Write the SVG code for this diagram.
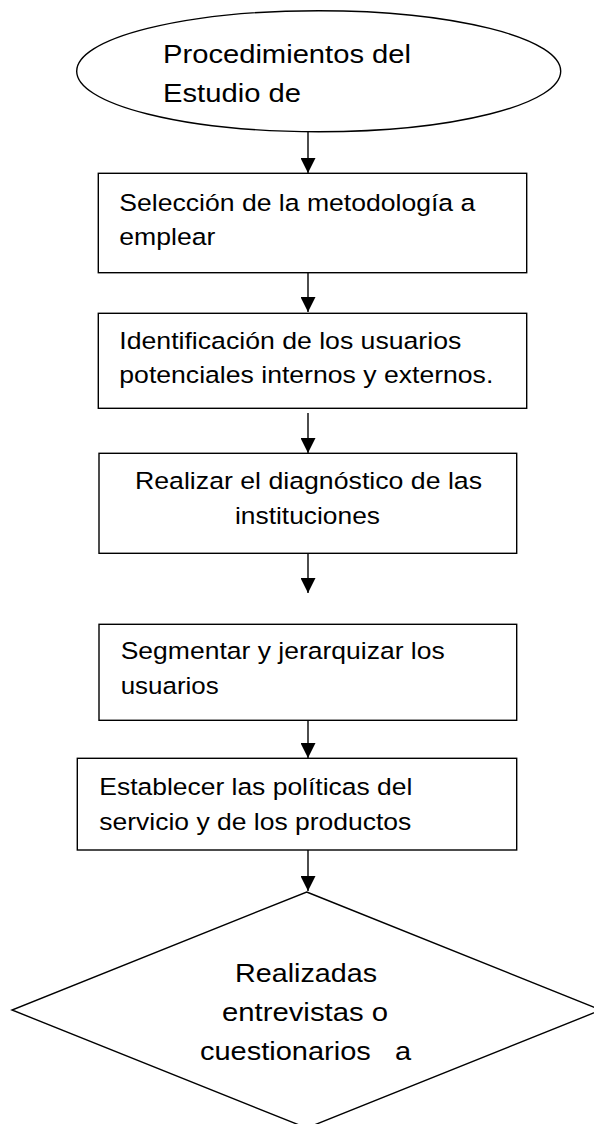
<svg xmlns="http://www.w3.org/2000/svg" width="594" height="1124" viewBox="0 0 594 1124">
<defs>
<style>
.s{fill:#fff;stroke:#000;stroke-width:1.4}
.t{font-family:"Liberation Sans",Arial,sans-serif;fill:#000}
.b{font-size:24.5px}
.e{font-size:26.5px}
.c{text-anchor:middle}
.ln{stroke:#000;stroke-width:1.4;fill:none}
</style>
<marker id="ah" markerWidth="15" markerHeight="15" viewBox="0 0 15 15" refX="15" refY="7.5" orient="auto" markerUnits="userSpaceOnUse">
<path d="M0,0 L15,7.5 L0,15 Z" fill="#000"/>
</marker>
</defs>
<rect width="594" height="1124" fill="#fff"/>
<g id="connectors">
<line class="ln" x1="308" y1="132" x2="308" y2="173" marker-end="url(#ah)"/>
<line class="ln" x1="308" y1="273" x2="308" y2="312" marker-end="url(#ah)"/>
<line class="ln" x1="308" y1="413" x2="308" y2="453" marker-end="url(#ah)"/>
<line class="ln" x1="308" y1="553" x2="308" y2="593" marker-end="url(#ah)"/>
<line class="ln" x1="308" y1="720" x2="308" y2="758" marker-end="url(#ah)"/>
<line class="ln" x1="308" y1="850" x2="308" y2="891" marker-end="url(#ah)"/>
</g>
<g id="start">
<ellipse class="s" cx="318.7" cy="71.2" rx="242" ry="60.5"/>
<text class="t e" x="163" y="63.3" textLength="248" lengthAdjust="spacingAndGlyphs">Procedimientos del</text>
<text class="t e" x="163" y="101.7" textLength="138" lengthAdjust="spacingAndGlyphs">Estudio de</text>
</g>
<g id="n1">
<rect class="s" x="98.3" y="173.3" width="428.4" height="99.4"/>
<text class="t b" x="119.3" y="210.5" textLength="356" lengthAdjust="spacingAndGlyphs">Selección de la metodología a</text>
<text class="t b" x="119.3" y="244.5" textLength="96" lengthAdjust="spacingAndGlyphs">emplear</text>
</g>
<g id="n2">
<rect class="s" x="98.3" y="313.3" width="428.4" height="95"/>
<text class="t b" x="119.3" y="349.3" textLength="342" lengthAdjust="spacingAndGlyphs">Identificación de los usuarios</text>
<text class="t b" x="119.3" y="383.3" textLength="374" lengthAdjust="spacingAndGlyphs">potenciales internos y externos.</text>
</g>
<g id="n3">
<rect class="s" x="99" y="453.3" width="417.7" height="100"/>
<text class="t b c" x="308.5" y="489" textLength="347" lengthAdjust="spacingAndGlyphs">Realizar el diagnóstico de las</text>
<text class="t b c" x="307.5" y="524.3" textLength="145" lengthAdjust="spacingAndGlyphs">instituciones</text>
</g>
<g id="n4">
<rect class="s" x="99" y="624.3" width="417.7" height="96"/>
<text class="t b" x="120.7" y="659.3" textLength="324" lengthAdjust="spacingAndGlyphs">Segmentar y jerarquizar los</text>
<text class="t b" x="120.7" y="694" textLength="98" lengthAdjust="spacingAndGlyphs">usuarios</text>
</g>
<g id="n5">
<rect class="s" x="77.3" y="758.3" width="439.4" height="91.7"/>
<text class="t b" x="99.3" y="795" textLength="313" lengthAdjust="spacingAndGlyphs">Establecer las políticas del</text>
<text class="t b" x="99.3" y="829.7" textLength="312" lengthAdjust="spacingAndGlyphs">servicio y de los productos</text>
</g>
<g id="decision">
<polygon class="s" points="306.7,892 601,1010 306.7,1128 12,1010"/>
<text class="t e c" x="306" y="982" textLength="142" lengthAdjust="spacingAndGlyphs">Realizadas</text>
<text class="t e c" x="305" y="1021" textLength="166" lengthAdjust="spacingAndGlyphs">entrevistas o</text>
<text class="t e c" x="305.5" y="1060" textLength="211" lengthAdjust="spacingAndGlyphs" xml:space="preserve" style="white-space:pre">cuestionarios   a</text>
</g>
</svg>
